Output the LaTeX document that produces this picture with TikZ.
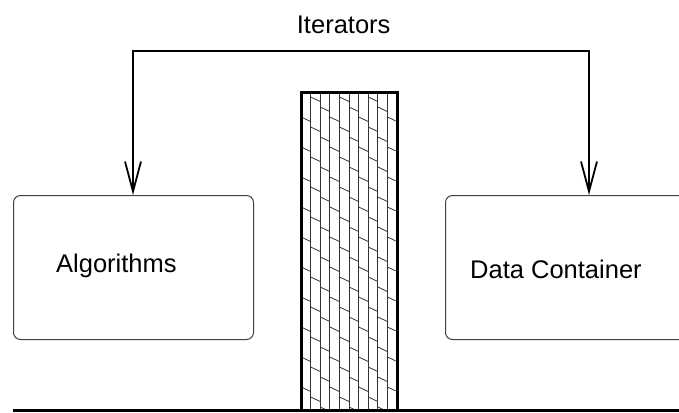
\documentclass[tikz,border=0pt]{standalone}
\usepackage{fontspec}
\setmainfont{Liberation Sans}
\usetikzlibrary{arrows.meta}
\begin{document}
\begin{tikzpicture}[x=1pt,y=-1pt,
  box/.style={draw=black!75, line width=1pt, rounded corners=7pt, inner sep=0pt},
  lbl/.style={anchor=base west, inner sep=0pt, font=\fontsize{25.5}{30}\selectfont},
  conn/.style={line width=1.8pt, line join=miter,
    {Straight Barb[length=30pt,width=16pt,line width=1.8pt]}-{Straight Barb[length=30pt,width=16pt,line width=1.8pt]}},
  hatch/.style={line width=0.8pt, black!80},
  wall/.style={line width=3pt, line join=miter}]
\clip (0,0) rectangle (679,412);
% boxes
\node[box, anchor=north west, minimum width=240pt, minimum height=144pt] (alg) at (13,195) {};
\node[box, anchor=north west, minimum width=300pt, minimum height=144pt] (dc) at (445,195) {};
% labels
\node[lbl] (algt) at (56,272) {Algorithms};
\node[lbl] (dct) at (470,278.3) {Data Container};
\node[lbl] (itt) at (296.7,33.3) {Iterators};
% connector
\coordinate (ja) at (133,50.7);
\coordinate (jd) at (589,50.7);
\draw[conn] (ja |- alg.north) -- (ja) -- (jd) -- (jd |- dc.north);
% pillar hatch
\begin{scope}
  \clip (302.5,93.5) rectangle (395.5,409);
  \foreach \k in {1,...,9} \draw[hatch] ({301+9.6*\k},92) -- ({301+9.6*\k},410);
  \foreach \k in {0,...,9} \foreach \m in {-3,...,11}
    \draw[hatch] ({301+9.6*\k},{87+10*\k+30*\m}) -- ++(9.6,4.5);
\end{scope}
% pillar walls
\draw[wall] (301,410) -- (301,92) -- (397,92) -- (397,410);
% ground
\draw[line width=3pt] (13,410) -- (679,410);
\end{tikzpicture}
\end{document}
